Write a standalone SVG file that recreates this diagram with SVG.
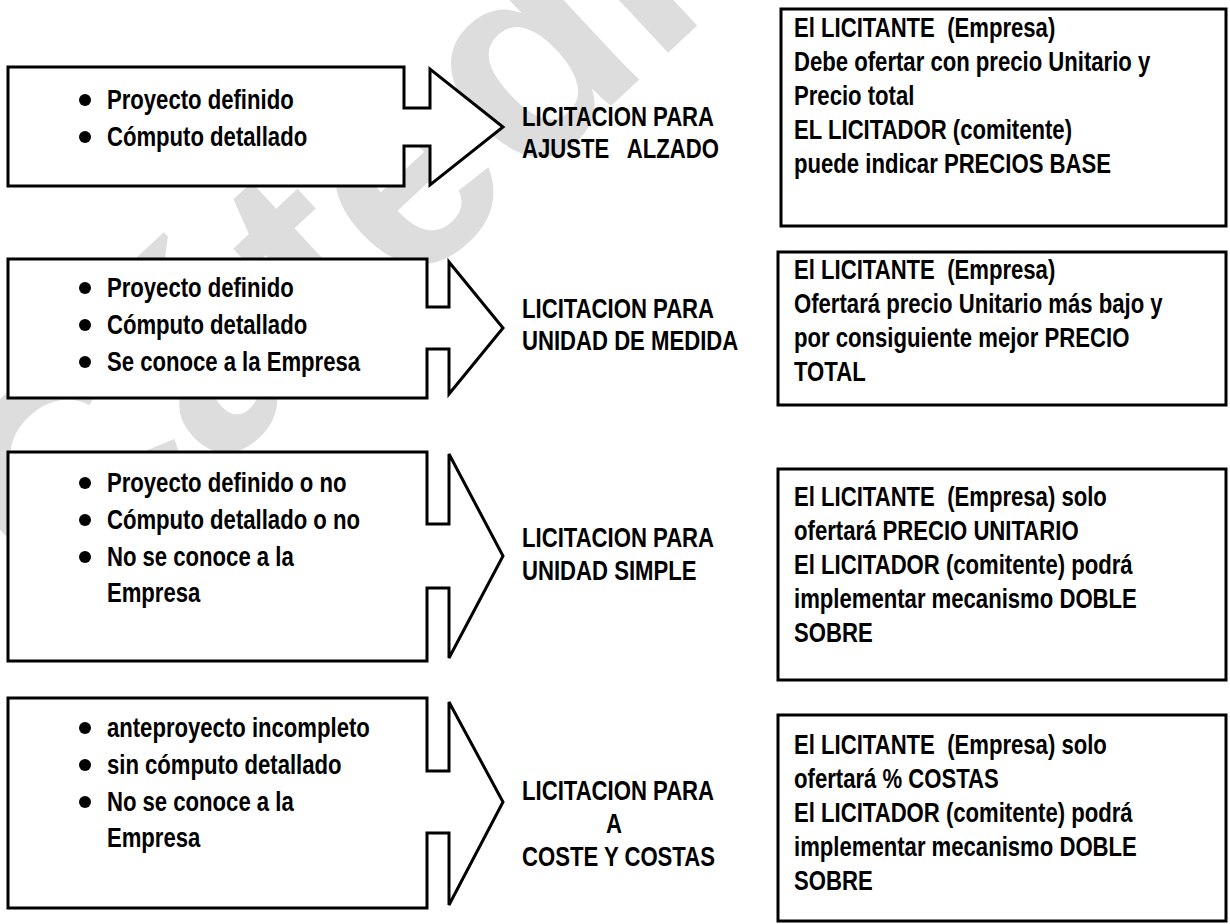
<svg xmlns="http://www.w3.org/2000/svg" width="1230" height="924" viewBox="0 0 1230 924">
<style>
.shape{fill:#fff;stroke:#000;stroke-width:3;stroke-linejoin:miter}
.t{font-family:"Liberation Sans",Arial,sans-serif;font-weight:bold;font-size:28px;fill:#000}
.wm{font-family:"Liberation Sans",Arial,sans-serif;font-weight:bold;font-size:290px;fill:#dddddd}
.b{fill:#000}
</style>
<rect width="1230" height="924" fill="#fff"/>
<text class="wm" transform="translate(64,616) rotate(-43)">Cátedra</text>
<g id="connectors"></g>
<g id="arrow1">
<path class="shape" d="M8,67 H404 V108 H430 V69 L503,127 L430,185 V146 H404 V186 H8 Z"/>
<circle class="b" cx="85" cy="100" r="6"/><circle class="b" cx="85" cy="137" r="6"/>
<g transform="scale(0.79 1)"><text class="t" x="135.4" y="109">Proyecto definido</text><text class="t" x="135.4" y="146">Cómputo detallado</text></g>
</g>
<g id="arrow2">
<path class="shape" d="M8,259 H427 V307 H449 V262 L503,328 L449,394 V349 H427 V398 H8 Z"/>
<circle class="b" cx="85" cy="288" r="6"/><circle class="b" cx="85" cy="325" r="6"/><circle class="b" cx="85" cy="362" r="6"/>
<g transform="scale(0.79 1)"><text class="t" x="135.4" y="297">Proyecto definido</text><text class="t" x="135.4" y="334">Cómputo detallado</text><text class="t" x="135.4" y="371">Se conoce a la Empresa</text></g>
</g>
<g id="arrow3">
<path class="shape" d="M8,452 H427 V524 H449 V454 L503,556 L449,658 V588 H427 V661 H8 Z"/>
<circle class="b" cx="85" cy="483" r="6"/><circle class="b" cx="85" cy="520" r="6"/><circle class="b" cx="85" cy="557" r="6"/>
<g transform="scale(0.79 1)"><text class="t" x="135.4" y="492">Proyecto definido o no</text><text class="t" x="135.4" y="529">Cómputo detallado o no</text><text class="t" x="135.4" y="566">No se conoce a la</text><text class="t" x="135.4" y="602">Empresa</text></g>
</g>
<g id="arrow4">
<path class="shape" d="M8,698 H427 V771 H449 V702 L503,802 L449,905 V833 H427 V908 H8 Z"/>
<circle class="b" cx="85" cy="728" r="6"/><circle class="b" cx="85" cy="765" r="6"/><circle class="b" cx="85" cy="802" r="6"/>
<g transform="scale(0.79 1)"><text class="t" x="135.4" y="737">anteproyecto incompleto</text><text class="t" x="135.4" y="774">sin cómputo detallado</text><text class="t" x="135.4" y="811">No se conoce a la</text><text class="t" x="135.4" y="847">Empresa</text></g>
</g>
<g id="label1" transform="scale(0.79 1)"><text class="t" x="660.8" y="126">LICITACION PARA</text><text class="t" x="660.8" y="158" xml:space="preserve">AJUSTE   ALZADO</text></g>
<g id="label2" transform="scale(0.79 1)"><text class="t" x="660.8" y="318">LICITACION PARA</text><text class="t" x="660.8" y="350">UNIDAD DE MEDIDA</text></g>
<g id="label3" transform="scale(0.79 1)"><text class="t" x="660.8" y="547">LICITACION PARA</text><text class="t" x="660.8" y="580">UNIDAD SIMPLE</text></g>
<g id="label4" transform="scale(0.79 1)"><text class="t" x="660.8" y="800">LICITACION PARA</text><text class="t" x="777.2" y="833" text-anchor="middle">A</text><text class="t" x="660.8" y="866">COSTE Y COSTAS</text></g>
<g id="box1">
<rect class="shape" x="781" y="9" width="445" height="217"/>
<g transform="scale(0.79 1)"><text class="t" x="1005.1" y="37" xml:space="preserve">El LICITANTE  (Empresa)</text><text class="t" x="1005.1" y="71">Debe ofertar con precio Unitario y</text><text class="t" x="1005.1" y="105">Precio total</text><text class="t" x="1005.1" y="139">EL LICITADOR (comitente)</text><text class="t" x="1005.1" y="173">puede indicar PRECIOS BASE</text></g>
</g>
<g id="box2">
<rect class="shape" x="778" y="252" width="448" height="153"/>
<g transform="scale(0.79 1)"><text class="t" x="1005.1" y="279" xml:space="preserve">El LICITANTE  (Empresa)</text><text class="t" x="1005.1" y="313">Ofertará precio Unitario más bajo y</text><text class="t" x="1005.1" y="347">por consiguiente mejor PRECIO</text><text class="t" x="1005.1" y="381">TOTAL</text></g>
</g>
<g id="box3">
<rect class="shape" x="778" y="469" width="448" height="211"/>
<g transform="scale(0.79 1)"><text class="t" x="1005.1" y="506" xml:space="preserve">El LICITANTE  (Empresa) solo</text><text class="t" x="1005.1" y="540">ofertará PRECIO UNITARIO</text><text class="t" x="1005.1" y="574">El LICITADOR (comitente) podrá</text><text class="t" x="1005.1" y="608">implementar mecanismo DOBLE</text><text class="t" x="1005.1" y="642">SOBRE</text></g>
</g>
<g id="box4">
<rect class="shape" x="778" y="715" width="448" height="206"/>
<g transform="scale(0.79 1)"><text class="t" x="1005.1" y="754" xml:space="preserve">El LICITANTE  (Empresa) solo</text><text class="t" x="1005.1" y="788">ofertará % COSTAS</text><text class="t" x="1005.1" y="822">El LICITADOR (comitente) podrá</text><text class="t" x="1005.1" y="856">implementar mecanismo DOBLE</text><text class="t" x="1005.1" y="890">SOBRE</text></g>
</g>
</svg>
